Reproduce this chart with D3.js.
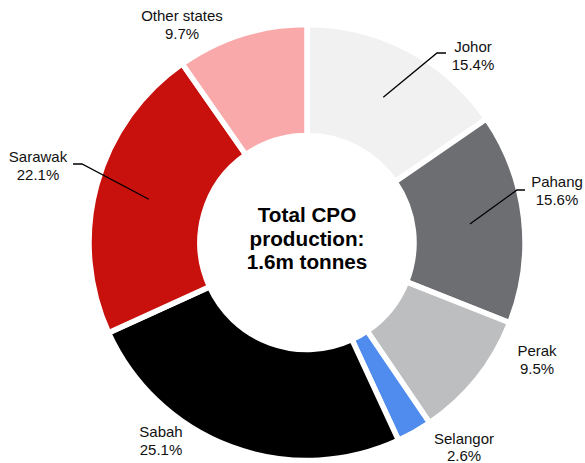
<!DOCTYPE html>
<html>
<head>
<meta charset="utf-8">
<script src="https://cdn.jsdelivr.net/npm/d3@7.9.0/dist/d3.min.js"></script>
<style>
  body { margin: 0; background: #fff; }
  svg { display: block; font-family: "Liberation Sans", Arial, sans-serif; }
</style>
</head>
<body>
<svg id="chart" width="585" height="463"></svg>
<script>
const states = ['Johor', 'Pahang', 'Perak', 'Selangor', 'Sabah', 'Sarawak', 'Other states'];
const shares = [15.4, 15.6, 9.5, 2.6, 25.1, 22.1, 9.7];
const centerLines = ['Total CPO', 'production:', '1.6m tonnes'];

const colors = ['#f1f1f1', '#6d6e71', '#bdbec0', '#4f8ced', '#000000', '#c8100c', '#f9a9aa'];

// where each label sits (x centre, first baseline) and leader elbows, if any
const labelLayout = {
  'Johor':        { x: 473, y: 52,  elbow: [437, 53], end: [446, 53] },
  'Pahang':       { x: 557, y: 187, elbow: [517, 190], end: [525, 190] },
  'Perak':        { x: 537, y: 356 },
  'Selangor':     { x: 464, y: 443.5 },
  'Sabah':        { x: 161, y: 437 },
  'Sarawak':      { x: 38,  y: 162, elbow: [82, 164], end: [73, 164] },
  'Other states': { x: 182, y: 21 }
};

const cx = 307, cy = 242.5;
const svg = d3.select('#chart');
const g = svg.append('g').attr('transform', `translate(${cx},${cy})`);

const data = states.map((s, i) => ({ label: s, value: shares[i] }));
const pie = d3.pie().value(d => d.value).sort(null);
const arcs = pie(data);
const arc = d3.arc().innerRadius(107).outerRadius(218);
const leaderArc = d3.arc().innerRadius(164).outerRadius(164);

g.selectAll('path.slice')
  .data(arcs)
  .join('path')
  .attr('class', 'slice')
  .attr('d', arc)
  .attr('fill', (d, i) => colors[i])
  .attr('stroke', '#fff')
  .attr('stroke-width', 5.5)
  .attr('stroke-linejoin', 'miter');

// leader lines
arcs.forEach(d => {
  const lay = labelLayout[d.data.label];
  if (!lay.elbow) return;
  const [sx, sy] = leaderArc.centroid(d);
  svg.append('polyline')
    .attr('points', [[sx + cx, sy + cy], lay.elbow, lay.end].map(p => p.join(',')).join(' '))
    .attr('fill', 'none')
    .attr('stroke', '#000')
    .attr('stroke-width', 1.3);
});

// labels
arcs.forEach(d => {
  const lay = labelLayout[d.data.label];
  const t = svg.append('text')
    .attr('text-anchor', 'middle')
    .attr('font-size', 15)
    .attr('fill', '#111');
  t.append('tspan').attr('x', lay.x).attr('y', lay.y).text(d.data.label);
  t.append('tspan').attr('x', lay.x).attr('y', lay.y + 17.5).text(d.data.value.toFixed(1) + '%');
});

// centre text
const ct = svg.append('text')
  .attr('text-anchor', 'middle')
  .attr('font-size', 20.7)
  .attr('font-weight', 'bold')
  .attr('fill', '#000');
centerLines.forEach((line, i) => {
  ct.append('tspan').attr('x', cx).attr('y', 222 + i * 23.5).text(line);
});
</script>
</body>
</html>
